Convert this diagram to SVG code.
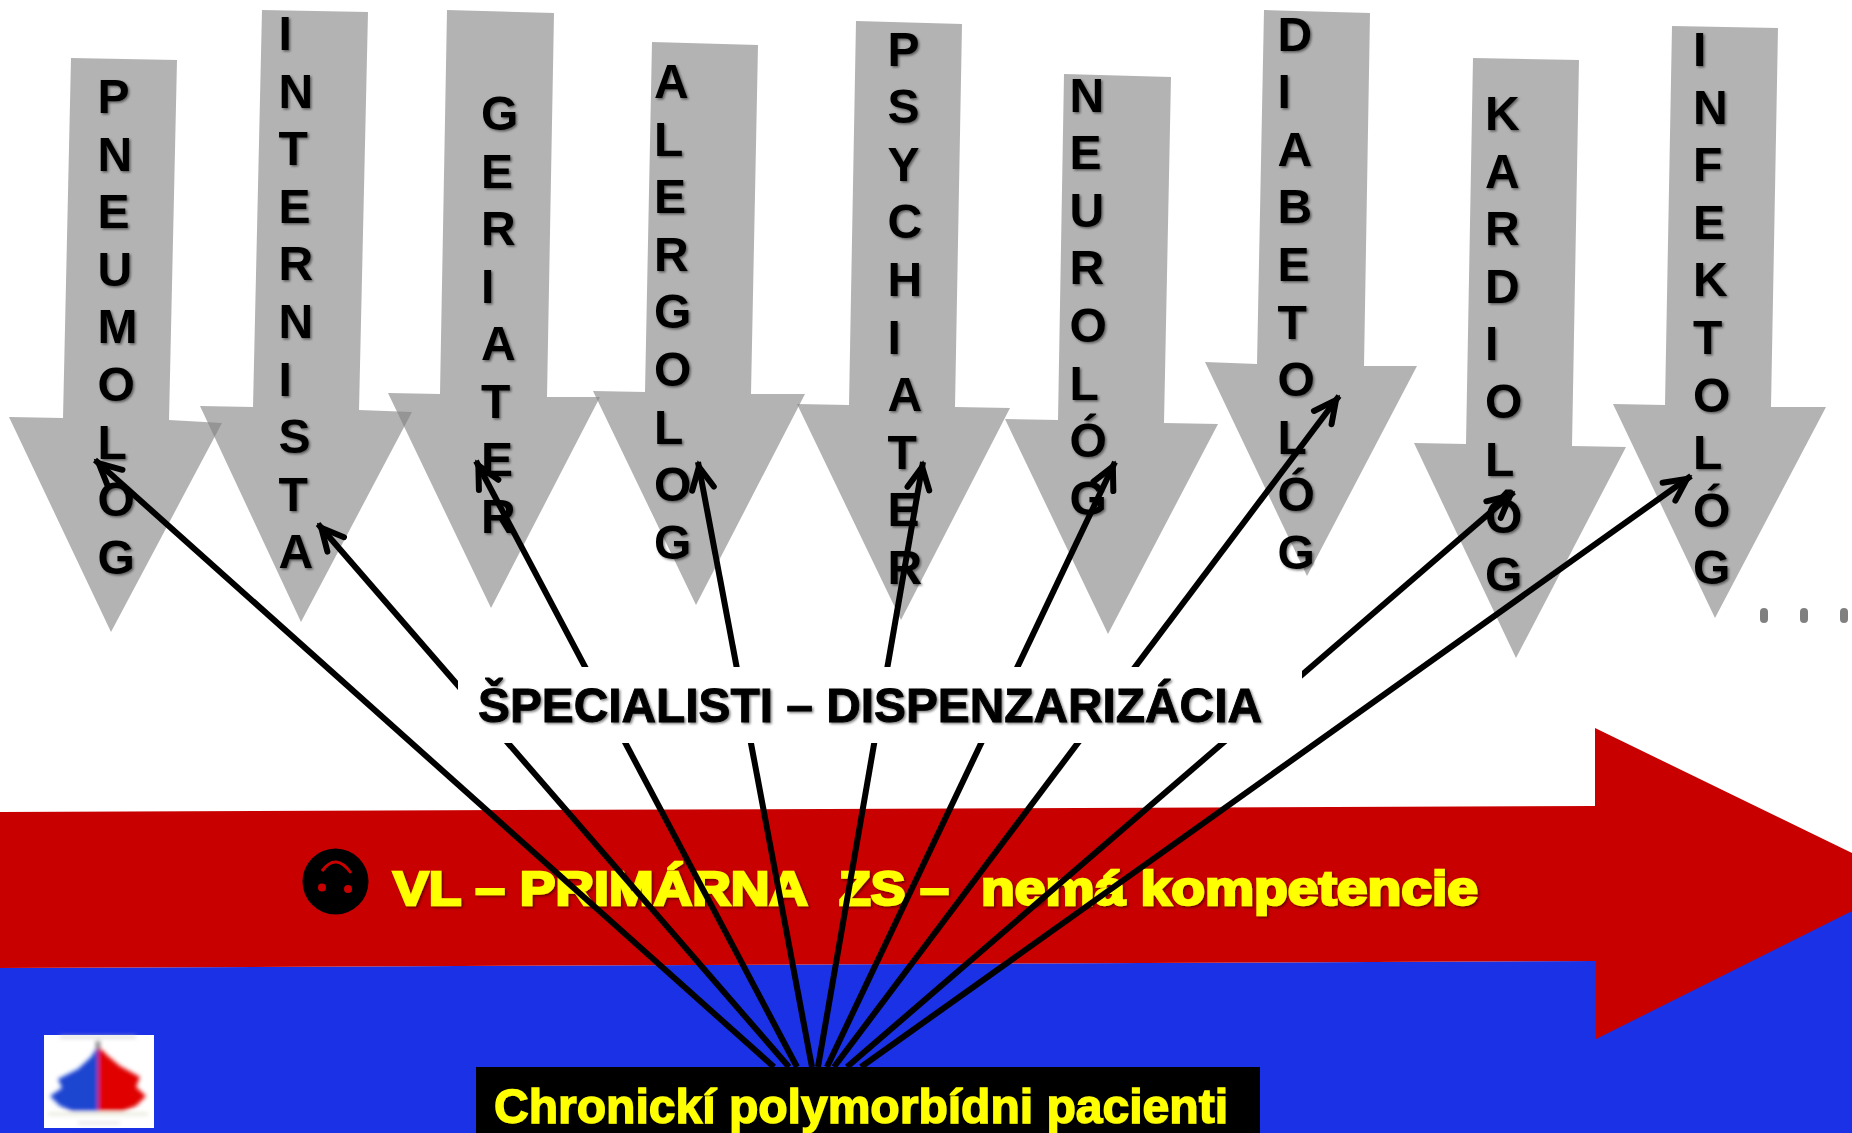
<svg xmlns="http://www.w3.org/2000/svg" width="1852" height="1133" viewBox="0 0 1852 1133">
<style>
.arrow{fill:#808080;fill-opacity:.6}
.ltr{font:bold 48px "Liberation Sans",Arial,sans-serif;fill:#000;filter:url(#softShadow)}
.link{fill:none;stroke:#000;stroke-width:6;marker-end:url(#openHead)}
.banner{font-family:"Liberation Sans",Arial,sans-serif;font-weight:bold;filter:url(#softShadow)}
.yel{fill:#ff0;stroke:#ff0}
.dot{fill:#808080}
</style>
<defs>
<filter id="softShadow" x="-10%" y="-30%" width="120%" height="160%"><feDropShadow dx="1.5" dy="1.5" stdDeviation="1.3" flood-color="#000" flood-opacity=".5"/></filter>
<filter id="thumbBlur"><feGaussianBlur stdDeviation="2"/></filter>
<marker id="openHead" markerUnits="userSpaceOnUse" viewBox="-28 -16 36 32" markerWidth="36" markerHeight="32" refX="5" refY="0" orient="auto"><path d="M-22,-11L0,0L-22,11" fill="none" stroke="#000" stroke-width="6" stroke-linecap="round"/></marker>
</defs>
<rect width="1852" height="1133" fill="#fff"/>
<g id="blue-band"><polygon points="0,968 1596,961 1852,900 1852,1133 0,1133" fill="#1b31e6"/></g>
<g id="red-arrow"><polygon points="0,812 1595,806 1595,728 1852,853 1852,911 1596,1039 1596,961 0,968" fill="#c80000"/></g>
<g id="arrow-pneumolog"><polygon class="arrow" points="71,58 177,60 169,420 222,423 111,632 9,417 63,418"/><text class="ltr"><tspan x="97.5" y="113">P</tspan><tspan x="97.5" dy="57.6">N</tspan><tspan x="97.5" dy="57.6">E</tspan><tspan x="97.5" dy="57.6">U</tspan><tspan x="97.5" dy="57.6">M</tspan><tspan x="97.5" dy="57.6">O</tspan><tspan x="97.5" dy="57.6">L</tspan><tspan x="97.5" dy="57.6">O</tspan><tspan x="97.5" dy="57.6">G</tspan></text></g>
<g id="arrow-internista"><polygon class="arrow" points="262,10 368,12 359,410 412,412 301,622 200,406 253,407"/><text class="ltr"><tspan x="278.5" y="50">I</tspan><tspan x="278.5" dy="57.6">N</tspan><tspan x="278.5" dy="57.6">T</tspan><tspan x="278.5" dy="57.6">E</tspan><tspan x="278.5" dy="57.6">R</tspan><tspan x="278.5" dy="57.6">N</tspan><tspan x="278.5" dy="57.6">I</tspan><tspan x="278.5" dy="57.6">S</tspan><tspan x="278.5" dy="57.6">T</tspan><tspan x="278.5" dy="57.6">A</tspan></text></g>
<g id="arrow-geriater"><polygon class="arrow" points="447,10 554,13 547,397 600,397 491,608 388,393 440,394"/><text class="ltr"><tspan x="481" y="130">G</tspan><tspan x="481" dy="57.6">E</tspan><tspan x="481" dy="57.6">R</tspan><tspan x="481" dy="57.6">I</tspan><tspan x="481" dy="57.6">A</tspan><tspan x="481" dy="57.6">T</tspan><tspan x="481" dy="57.6">E</tspan><tspan x="481" dy="57.6">R</tspan></text></g>
<g id="arrow-alergolog"><polygon class="arrow" points="652,42 758,45 751,394 805,394 696,605 593,391 645,392"/><text class="ltr"><tspan x="654" y="98">A</tspan><tspan x="654" dy="57.6">L</tspan><tspan x="654" dy="57.6">E</tspan><tspan x="654" dy="57.6">R</tspan><tspan x="654" dy="57.6">G</tspan><tspan x="654" dy="57.6">O</tspan><tspan x="654" dy="57.6">L</tspan><tspan x="654" dy="57.6">O</tspan><tspan x="654" dy="57.6">G</tspan></text></g>
<g id="arrow-psychiater"><polygon class="arrow" points="856,21 962,24 955,407 1010,408 901,620 797,404 849,405"/><text class="ltr"><tspan x="887.5" y="65.5">P</tspan><tspan x="887.5" dy="57.6">S</tspan><tspan x="887.5" dy="57.6">Y</tspan><tspan x="887.5" dy="57.6">C</tspan><tspan x="887.5" dy="57.6">H</tspan><tspan x="887.5" dy="57.6">I</tspan><tspan x="887.5" dy="57.6">A</tspan><tspan x="887.5" dy="57.6">T</tspan><tspan x="887.5" dy="57.6">E</tspan><tspan x="887.5" dy="57.6">R</tspan></text></g>
<g id="arrow-neurolog"><polygon class="arrow" points="1064,74 1171,77 1164,423 1218,424 1108,634 1005,419 1058,420"/><text class="ltr"><tspan x="1069.5" y="111.5">N</tspan><tspan x="1069.5" dy="57.6">E</tspan><tspan x="1069.5" dy="57.6">U</tspan><tspan x="1069.5" dy="57.6">R</tspan><tspan x="1069.5" dy="57.6">O</tspan><tspan x="1069.5" dy="57.6">L</tspan><tspan x="1069.5" dy="57.6">Ó</tspan><tspan x="1069.5" dy="57.6">G</tspan></text></g>
<g id="arrow-diabetolog"><polygon class="arrow" points="1264,10 1370,13 1364,366 1417,366 1307,576 1205,362 1257,364"/><text class="ltr"><tspan x="1277.5" y="50.5">D</tspan><tspan x="1277.5" dy="57.6">I</tspan><tspan x="1277.5" dy="57.6">A</tspan><tspan x="1277.5" dy="57.6">B</tspan><tspan x="1277.5" dy="57.6">E</tspan><tspan x="1277.5" dy="57.6">T</tspan><tspan x="1277.5" dy="57.6">O</tspan><tspan x="1277.5" dy="57.6">L</tspan><tspan x="1277.5" dy="57.6">Ó</tspan><tspan x="1277.5" dy="57.6">G</tspan></text></g>
<g id="arrow-kardiolog"><polygon class="arrow" points="1473,58 1579,60 1572,446 1626,447 1516,658 1414,443 1466,444"/><text class="ltr"><tspan x="1485" y="130">K</tspan><tspan x="1485" dy="57.6">A</tspan><tspan x="1485" dy="57.6">R</tspan><tspan x="1485" dy="57.6">D</tspan><tspan x="1485" dy="57.6">I</tspan><tspan x="1485" dy="57.6">O</tspan><tspan x="1485" dy="57.6">L</tspan><tspan x="1485" dy="57.6">Ó</tspan><tspan x="1485" dy="57.6">G</tspan></text></g>
<g id="arrow-infektolog"><polygon class="arrow" points="1672,26 1778,28 1771,407 1826,407 1715,618 1613,404 1665,405"/><text class="ltr"><tspan x="1693" y="66">I</tspan><tspan x="1693" dy="57.6">N</tspan><tspan x="1693" dy="57.6">F</tspan><tspan x="1693" dy="57.6">E</tspan><tspan x="1693" dy="57.6">K</tspan><tspan x="1693" dy="57.6">T</tspan><tspan x="1693" dy="57.6">O</tspan><tspan x="1693" dy="57.6">L</tspan><tspan x="1693" dy="57.6">Ó</tspan><tspan x="1693" dy="57.6">G</tspan></text></g>
<g id="ellipsis"><rect class="dot" x="1760" y="608" width="8" height="15" rx="4"/><rect class="dot" x="1800" y="608" width="8" height="15" rx="4"/><rect class="dot" x="1840" y="608" width="8" height="15" rx="4"/></g>
<g id="primary-care"><circle cx="335.5" cy="881.5" r="33" fill="#000"/><circle cx="322" cy="887.5" r="4" fill="#c80000"/><circle cx="348" cy="889" r="4" fill="#c80000"/><path d="M322,871Q336,852 351,873" fill="none" stroke="#c80000" stroke-width="3"/><text class="banner yel" y="905" font-size="49" stroke-width="2.6" xml:space="preserve"><tspan x="393" textLength="413" lengthAdjust="spacingAndGlyphs">VL – PRIMÁRNA</tspan>  <tspan x="839" textLength="110" lengthAdjust="spacingAndGlyphs">ZS –</tspan>  <tspan x="981" textLength="497" lengthAdjust="spacingAndGlyphs">nemá kompetencie</tspan></text></g>
<g id="connectors">
<path class="link" d="M774,1067L95,460"/>
<path class="link" d="M789,1067L318,524"/>
<path class="link" d="M797,1067L476,461"/>
<path class="link" d="M812,1067L698,462"/>
<path class="link" d="M818,1067L923,462"/>
<path class="link" d="M827,1067L1115,462"/>
<path class="link" d="M834,1067L1339,396"/>
<path class="link" d="M847,1067L1514,492"/>
<path class="link" d="M861,1067L1691,476"/>
</g>
<g id="specialists"><rect x="458" y="667" width="844" height="76" fill="#fff"/><text class="banner" x="478" y="722" font-size="48" fill="#000" stroke="#000" stroke-width=".9" textLength="784" lengthAdjust="spacingAndGlyphs">ŠPECIALISTI – DISPENZARIZÁCIA</text></g>
<g id="patients"><rect x="476" y="1067" width="784" height="66" fill="#000"/><text class="banner yel" x="494" y="1123" font-size="48" stroke-width="1.4" textLength="734" lengthAdjust="spacingAndGlyphs">Chronickí polymorbídni pacienti</text></g>
<g id="thumbnail"><rect x="44" y="1035" width="110" height="93" fill="#fff"/><g filter="url(#thumbBlur)"><polygon points="98,1046 91,1057 78,1069 58,1079 62,1088 50,1096 60,1106 72,1111 98,1111" fill="#1b45d0"/><polygon points="98,1046 108,1056 120,1066 140,1077 136,1087 146,1096 136,1106 123,1111 98,1111" fill="#e00000"/><rect x="96" y="1041" width="4" height="8" fill="#777"/><rect x="60" y="1036" width="76" height="2" fill="#ccc"/><rect x="48" y="1113" width="100" height="2" fill="#dde0c8"/><rect x="78" y="1122" width="42" height="2" fill="#ddd"/></g></g>
</svg>
